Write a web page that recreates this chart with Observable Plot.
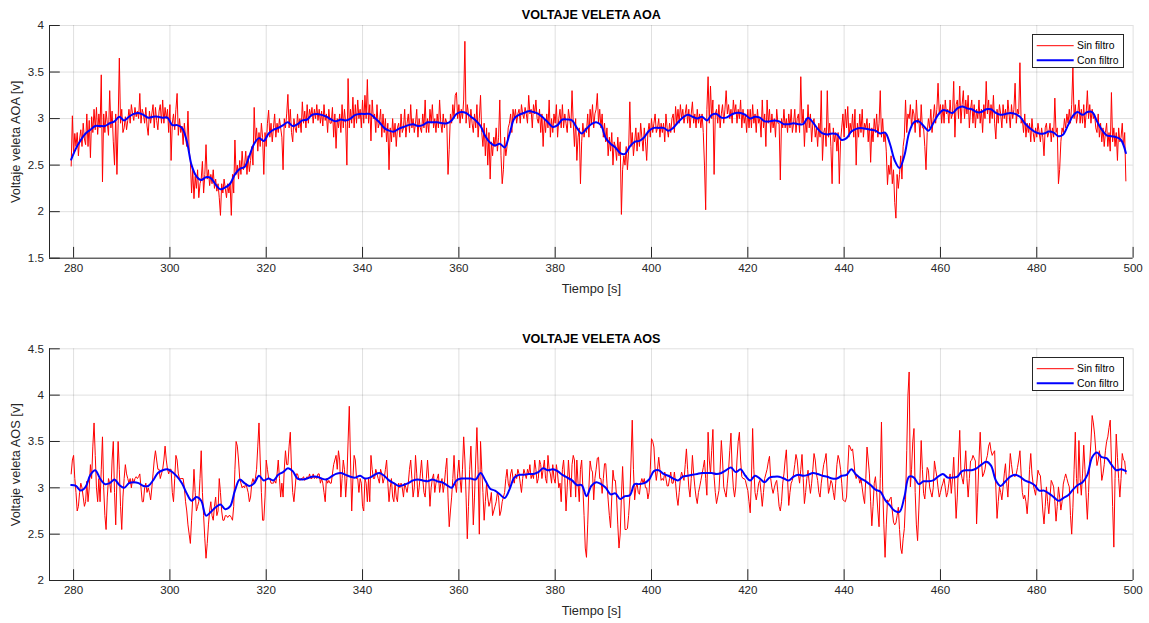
<!DOCTYPE html>
<html>
<head>
<meta charset="utf-8">
<script src="https://cdn.jsdelivr.net/npm/d3@7"></script>
<script src="https://cdn.jsdelivr.net/npm/@observablehq/plot@0.6"></script>
<style>
  body { margin: 0; background: #fff; font-family: "Liberation Sans", Arial, sans-serif; }
  #wrap { position: relative; width: 1149px; height: 623px; overflow: hidden; }
  #wrap svg { display: block; }
  .legend { position: absolute; left: 1032px; width: 92px; height: 34px; box-sizing: border-box;
            border: 1px solid #262626; background: #fff; font-size: 10.4px; color: #000; }
  .legend svg { position: absolute; left: 0; top: 0; }
</style>
</head>
<body>
<div id="wrap"></div>
<script>
// ---------- axes / ticks ----------
const xDomain = [275, 500];
const xTicks = [280, 300, 320, 340, 360, 380, 400, 420, 440, 460, 480, 500];
const aoaYDomain = [1.5, 4];
const aoaYTicks = [1.5, 2, 2.5, 3, 3.5, 4];
const aosYDomain = [2, 4.5];
const aosYTicks = [2, 2.5, 3, 3.5, 4, 4.5];
const seriesNames = ["Sin filtro", "Con filtro"];
const titles = ["VOLTAJE VELETA AOA", "VOLTAJE VELETA AOS"];
const yLabels = ["Voltaje veleta AOA [v]", "Voltaje veleta AOS [v]"];
const xLabel = "Tiempo [s]";

// ---------- AOA: raw signal (start 279.5 s, step 0.25 s) ----------
const aoaRawT0 = 279.5, rawDt = 0.25;
const aoaRaw = [
2.49,3.03,2.62,2.84, 2.7,2.85,2.6,2.78, 2.88,2.7,2.95,2.78, 2.72,3.05,2.7,2.98, 2.58,3.02,2.85,3.1,
2.88,3.12,2.83,3.05, 2.9,3.47,2.32,3.05, 2.85,3.08,2.95,2.82, 3.3,2.9,3.08,2.75, 2.5,3.05,2.4,2.95,
3.65,2.95,3.1,2.85, 2.9,3.02,2.88,2.98, 3.1,2.95,3.15,3.05, 2.98,3.12,3.02,3.08, 3.0,3.27,2.95,3.1,
3.05,2.95,3.12,2.92, 2.82,3.08,2.95,3.05, 3.15,2.9,3.12,2.98, 2.88,3.08,3.15,2.95, 3.2,2.95,3.12,3.0,
3.1,2.85,3.15,2.55, 2.95,3.05,2.88,3.1, 3.27,2.82,3.0,2.85, 2.92,2.72,2.95,2.8, 2.7,3.08,2.65,2.55,
2.2,2.45,2.14,2.38, 2.25,2.45,2.15,2.3, 2.35,2.54,2.2,2.4, 2.72,2.35,2.45,2.28, 2.4,2.3,2.45,2.25,
2.35,2.22,2.3,2.15, 1.96,2.3,2.2,2.35, 2.25,2.15,2.3,2.2, 2.3,1.96,2.4,2.2, 2.77,2.4,2.5,2.35,
2.55,2.4,2.65,2.45, 2.5,2.65,2.4,2.6, 2.43,2.55,2.7,2.5, 3.12,2.75,2.9,2.65, 2.85,2.7,2.95,2.8,
2.4,2.85,2.7,2.95, 3.09,2.8,2.95,2.75, 2.9,3.05,2.8,2.95, 2.85,3.0,2.9,2.8, 2.45,3.0,2.9,3.05,
3.26,2.9,3.1,2.85, 2.75,3.0,2.9,2.85, 3.05,2.9,3.0,2.85, 3.18,2.95,3.08,2.9, 3.15,2.95,3.1,3.02,
3.12,2.95,3.1,3.0, 3.15,2.98,3.1,2.95, 3.08,2.92,3.15,2.98, 3.05,2.85,3.1,2.95, 2.95,3.12,2.8,3.05,
2.68,3.0,2.9,3.05, 2.85,3.15,2.9,3.1, 2.95,2.5,3.43,2.9, 3.1,2.95,3.23,2.9, 3.15,2.95,3.2,3.0,
3.1,2.9,3.2,2.95, 3.25,3.0,3.42,2.95, 3.15,2.76,3.2,3.0, 3.05,2.85,3.15,2.9, 2.95,3.1,2.8,3.05,
2.85,3.0,2.75,2.95, 2.45,2.9,2.75,3.0, 2.8,2.95,2.7,2.9, 2.95,2.8,3.05,2.85, 2.9,3.1,2.8,2.95,
3.05,2.85,3.15,2.9, 3.0,2.85,2.95,3.1, 2.8,3.0,2.9,2.85, 3.05,2.9,3.2,2.85, 3.0,2.85,3.1,2.95,
3.15,2.9,3.0,2.85, 3.05,2.9,3.2,2.95, 2.85,3.05,2.9,3.0, 2.95,2.4,2.67,3.05, 2.95,3.15,3.0,3.25,
3.28,3.0,3.15,2.95, 3.1,3.0,3.2,3.83, 2.95,3.15,3.05,2.9, 3.1,2.95,2.85,3.05, 2.9,3.15,2.8,3.0,
3.25,2.85,2.7,2.95, 2.6,2.9,2.5,2.85, 2.35,2.75,2.6,2.8, 2.7,2.9,2.65,2.8, 3.2,2.6,2.3,2.45,
2.8,2.6,2.7,2.9, 2.95,3.05,2.85,3.1, 3.0,3.1,2.95,3.05, 3.1,2.95,3.15,3.05, 3.0,3.12,3.05,2.95,
3.25,3.05,3.1,2.9, 3.15,3.05,3.2,3.0, 2.95,3.1,2.85,3.05, 2.7,3.0,2.85,3.05, 2.9,3.2,2.8,3.0,
2.85,3.05,2.95,3.15, 2.8,3.0,3.1,2.9, 3.15,2.9,3.05,2.95, 2.85,3.1,3.0,2.9, 3.3,2.95,2.7,3.0,
2.55,2.8,2.9,2.3, 2.75,2.95,2.8,2.9, 2.85,3.05,2.8,3.1, 2.95,3.15,2.9,3.05, 3.1,3.27,2.95,3.1,
2.9,3.05,2.8,2.95, 2.75,2.9,2.6,2.8, 2.65,2.85,2.5,2.75, 2.7,2.55,2.8,2.6, 2.75,1.97,2.45,2.6,
2.5,2.7,2.45,2.65, 3.18,2.7,2.85,2.6, 2.75,2.9,2.65,2.85, 2.7,2.95,2.8,2.65, 2.9,2.75,2.55,2.85,
2.95,2.8,3.0,2.85, 2.95,3.05,2.85,2.9, 3.0,2.8,2.95,2.85, 2.95,2.75,3.05,2.9, 2.8,2.95,2.85,3.0,
3.05,2.85,3.13,2.95, 3.1,2.95,3.15,3.0, 3.1,2.95,3.05,3.15, 2.95,3.1,2.9,3.05, 3.18,2.95,3.05,2.9,
3.1,2.95,3.05,2.9, 3.05,2.85,2.5,2.02, 3.1,3.45,2.95,3.35, 3.0,3.2,2.4,3.05, 3.1,2.95,3.15,2.9,
3.05,3.15,2.95,3.1, 3.3,3.05,3.15,3.0, 3.1,2.95,3.2,3.05, 3.15,2.95,3.1,3.0, 3.2,2.9,3.1,2.95,
3.05,2.85,3.1,2.9, 3.1,2.9,3.15,2.95, 3.05,2.85,3.1,2.95, 3.0,2.8,3.2,2.9, 3.05,2.7,3.2,2.95,
3.1,2.85,3.05,2.9, 3.0,2.8,3.1,2.95, 2.95,2.34,3.0,2.9, 3.1,2.9,3.0,2.85, 3.05,2.9,3.1,2.85,
2.95,3.1,2.85,3.0, 3.05,2.85,3.45,2.95, 3.1,2.7,3.0,2.85, 3.15,2.9,3.05,2.75, 2.95,3.0,2.8,2.9,
2.7,2.95,2.8,3.3, 2.55,2.85,2.9,2.7, 3.3,2.8,2.95,2.7, 2.3,2.9,2.75,2.85, 2.65,2.85,2.3,2.75,
2.9,3.05,2.8,3.1, 2.9,3.13,2.8,2.95, 2.85,3.05,2.8,3.1, 2.5,2.95,2.8,3.05, 2.85,3.1,2.8,2.95,
2.9,3.0,2.75,2.95, 2.53,2.9,2.75,3.0, 2.85,3.05,2.8,2.95, 3.3,2.8,3.0,2.75, 2.85,2.65,2.29,2.5,
2.4,2.6,2.3,2.45, 2.1,1.93,2.4,2.25, 2.4,2.6,2.35,2.7, 2.8,3.2,2.85,3.05, 3.0,3.15,2.9,3.1,
3.05,2.85,3.2,2.95, 3.0,2.8,3.15,2.9, 2.9,2.7,2.45,2.85, 3.0,2.9,3.1,2.85, 3.0,3.15,2.95,3.1,
3.38,3.05,3.15,2.95, 3.15,2.95,3.2,3.05, 3.1,2.95,3.2,3.0, 3.05,3.4,2.8,3.15, 3.2,3.0,3.35,2.95,
3.15,3.3,3.0,3.2, 3.05,3.25,2.9,3.1, 3.2,2.95,3.15,2.9, 3.1,3.0,3.2,2.95, 3.1,2.85,3.15,3.0,
3.4,3.05,3.2,2.95, 3.15,3.0,3.25,2.95, 2.78,3.1,2.95,3.15, 3.05,2.9,3.15,3.0, 3.1,2.95,3.2,3.05,
2.9,3.15,3.0,3.1, 3.38,2.95,3.1,3.05, 3.6,2.95,3.0,2.85, 3.05,2.8,2.95,2.85, 2.95,2.75,3.0,2.85,
2.75,2.9,2.8,2.95, 2.85,2.75,2.9,2.8, 2.6,2.9,2.95,2.8, 2.85,2.95,2.75,2.9, 2.8,3.22,2.85,2.9,
2.3,2.45,2.75,2.9, 2.85,3.0,2.9,3.05, 2.95,3.1,2.95,3.15, 3.55,3.0,3.15,2.95, 3.05,3.2,2.95,3.1,
2.95,3.15,2.9,3.05, 3.3,3.0,3.15,2.95, 3.1,3.0,3.05,2.9, 2.85,3.05,2.8,2.95, 2.75,2.9,2.7,2.85,
2.95,2.7,2.85,2.65, 3.28,2.75,2.9,2.7, 2.85,2.55,2.9,2.75, 2.8,2.95,2.7,2.85,
2.33
];

// ---------- AOA: filtered signal (start 279.5 s, step 1 s) ----------
const aoaFiltT0 = 279.5, filtDt = 1;
const aoaFilt = [
2.56,2.68,2.77,2.84,2.88,2.92,2.92,2.92,2.95,2.97, 3.02,2.98,3.02,3.05,3.06,3.04,3.01,3.02,3.02,3.01,
3.01,2.93,2.93,2.9,2.76,2.5,2.38,2.34,2.37,2.36, 2.29,2.24,2.26,2.3,2.4,2.46,2.48,2.6,2.73,2.79,
2.76,2.84,2.88,2.9,2.93,2.96,2.92,2.94,2.98,2.99, 3.04,3.05,3.04,3.02,2.99,2.97,2.99,2.98,3.0,3.04,
3.05,3.05,3.05,3.01,2.96,2.9,2.87,2.86,2.89,2.91, 2.93,2.94,2.92,2.93,2.96,2.96,2.96,2.95,2.95,2.98,
3.05,3.07,3.06,3.02,2.98,2.92,2.81,2.74,2.71,2.73, 2.69,2.83,3.0,3.04,3.06,3.08,3.07,3.05,3.01,2.96,
2.91,2.93,2.99,2.99,2.98,2.9,2.84,2.89,2.94,2.96, 2.93,2.79,2.73,2.69,2.63,2.62,2.7,2.75,2.76,2.8,
2.87,2.9,2.9,2.9,2.87,2.9,2.96,3.01,3.04,3.02, 3.0,3.02,2.98,3.04,3.05,3.01,3.01,3.04,3.06,3.06,
3.04,3.0,3.02,3.01,2.97,2.97,2.98,2.97,2.94,2.94, 2.95,2.94,2.94,3.01,2.96,2.89,2.84,2.83,2.84,2.83,
2.77,2.79,2.86,2.89,2.9,2.89,2.88,2.87,2.84,2.85, 2.73,2.55,2.47,2.6,2.85,2.96,2.97,2.92,2.87,2.95,
3.04,3.09,3.08,3.06,3.11,3.13,3.11,3.1,3.07,3.07, 3.1,3.1,3.06,3.04,3.05,3.06,3.05,3.02,2.95,2.9,
2.86,2.84,2.84,2.86,2.85,2.81,2.83,2.93,3.03,3.07, 3.04,3.07,3.07,2.97,2.88,2.82,2.81,2.8,2.77,2.63
];

// ---------- AOS: raw signal, three consecutive pieces (step 0.25 s) ----------
const aosRawAT0 = 279.5;
const aosRawA = [
3.15,3.3,3.35,3.1, 2.95,2.75,2.8,2.95, 3.05,3.0,2.9,2.8, 2.85,3.07,2.85,3.0, 3.25,3.1,3.45,3.7,
3.35,3.0,2.85,3.1, 2.85,3.2,3.55,3.0, 2.7,2.55,2.9,3.1, 3.05,2.95,3.3,3.5, 2.95,2.6,3.1,3.5,
3.2,2.8,2.55,2.9, 3.1,3.25,3.15,3.1, 3.05,3.1,3.0,3.1, 3.05,3.1,3.12,3.1, 3.12,3.15,3.0,2.85,
2.85,3.0,3.05,2.95, 3.0,2.95,2.87,3.0, 3.15,3.3,3.4,3.3, 3.2,3.2,3.1,3.15, 3.2,3.3,3.45,3.3,
3.2,3.15,3.2,3.2, 2.95,2.85,3.1,3.35, 3.3,3.15,3.1,3.1, 3.1,3.1,3.0,2.85, 2.75,2.6,2.5,2.4,
2.65,2.9,3.2,2.95, 2.75,2.8,2.85,3.1, 3.4,2.95,2.7,2.45, 2.24,2.4,2.6,2.75, 2.85,2.7,2.65,2.8,
2.9,2.7,2.75,3.1, 2.95,2.75,2.65,2.65, 2.7,2.7,2.68,2.7, 2.7,2.68,2.65,2.8, 3.2,3.5,3.45,3.3,
3.1,3.05,3.0,3.02, 3.0,3.05,3.0,2.95, 2.85,2.9,3.05,3.1, 3.05,3.1,3.2,3.45, 3.7,3.3,2.95,2.65,
2.65,2.9,3.3,3.2, 3.1,3.1,3.05,3.05, 3.05,3.08,3.05,3.15, 3.3,3.1,2.9,3.05, 2.9,3.2,3.4,3.25,
3.25,3.45,3.6,3.2, 2.95,2.85,3.0,3.15, 3.15,3.1,3.08,3.1, 3.1,3.12,3.08,3.1, 3.12,3.1,3.15,3.1,
3.1,3.15,3.1,3.12, 3.1,3.15,3.15,3.05, 3.1,3.05,2.95,2.85, 3.1,3.05,3.08,3.05, 3.05,3.15,3.25,3.3,
3.35,3.2,3.4,3.3, 2.9,3.1,3.3,3.2, 2.9,3.1,3.5,3.88, 3.3,2.75,3.1,3.35, 3.3,3.1,3.1,2.95,
3.1,3.05,2.8,2.75, 3.1,3.05,2.85,3.1, 2.85,3.35,3.2,3.1, 3.1,3.2,3.15,3.1, 3.05,3.2,3.15,3.05,
3.1,3.2,3.3,3.05, 2.85,3.0,3.1,2.9, 2.85,3.05,2.9,2.85, 3.05,3.0,3.05,3.0, 2.9,3.05,3.0,2.95,
3.05,3.2,3.3,3.1, 2.9,3.0,3.35,3.15, 2.9,3.0,3.15,3.3, 3.1,2.95,2.9,3.1, 3.3,3.1,2.8,3.0,
3.1,3.15,2.95,3.05, 3.1,3.15,2.95,3.05, 3.1,2.95,3.05,3.2, 3.32,2.9,2.58,2.75, 2.9,3.1,3.35,3.05,
2.95,3.15,3.3,3.1, 2.95,3.2,3.55,3.3, 2.9,2.45,2.8,3.2, 3.45,3.1,2.6,2.9, 3.3,3.65,3.2,2.5,
3.5,3.2,2.95,2.65, 2.85,3.05,2.9,2.8, 2.85,2.95,2.7,2.75, 2.8,2.85,2.95,2.9, 2.7,2.75,2.85,2.9,
2.95,3.1,3.2,3.05, 3.0,3.15,3.2,3.1, 3.05,3.15,3.1,3.2, 3.15,3.05,2.95,3.1, 3.2,3.15,3.1,3.2,
3.15,3.25,3.1,3.15, 3.1,3.3,3.2,3.05, 3.1,3.3,3.25,3.1, 3.2,3.3,3.1,3.05, 3.35,3.2,3.15,3.05,
3.25,3.1,3.05,3.25, 3.15,3.0,3.05,2.85, 3.2,3.3,3.1,2.75, 3.0,3.3,3.1,2.9, 3.25,3.35,3.3,2.9,
3.3,3.05,2.85,3.2, 3.3,3.0,2.7,2.35, 2.25,2.6,3.0,3.29, 3.2,3.17,2.87,3.1, 3.2,3.32,3.33,3.1,
3.1,2.94,3.1,3.26, 3.26,3.05,2.87,2.7, 2.57,2.9,3.19,3.08, 3.08,2.9,2.6,2.35, 2.5,2.9,3.23,2.9,
2.55,2.55,2.56,2.7, 2.9,3.3,3.73,3.2, 2.87,3.0,3.05,2.95, 2.93,3.05,3.1,3.05, 3.1,3.0,3.0,2.88,
2.95,3.2,3.53,3.5, 3.44,3.2,3.08,3.2, 3.33,3.2,3.08,3.1, 3.08,3.17,3.1,3.02, 3.02,3.1,3.17,3.05,
3.05,3.17,3.05,2.9
];
const aosRawBT0 = 405.5;
const aosRawB = [
2.81,2.95,3.1,3.17, 3.12,3.08,3.25,3.42, 3.2,3.0,2.9,3.1, 3.35,3.15,3.01,2.9, 2.83,2.95,3.01,3.08,
3.15,3.22,3.3,3.1, 2.92,3.6,3.3,3.15, 3.4,3.63,3.12,2.95, 2.83,2.9,2.97,3.2, 3.51,3.3,3.01,2.95,
2.9,3.05,3.19,3.4, 3.59,3.2,3.0,2.9, 3.01,3.3,3.5,3.6, 3.3,3.12,3.1,3.1, 3.08,3.02,2.97,2.85,
2.73,3.1,3.64,3.2, 2.95,2.87,2.95,3.05, 3.08,2.95,2.8,2.95, 3.1,3.15,3.2,3.28, 3.34,3.1,3.0,2.94,
3.0,3.05,3.08,2.95, 2.8,2.75,2.85,3.05, 3.15,3.3,3.41,3.1, 2.81,2.95,3.05,3.08, 3.15,3.25,3.36,3.3,
3.15,3.05,3.2,3.36, 3.1,2.83,2.95,3.1, 3.19,3.05,2.94,3.05, 3.2,3.37,3.3,3.15, 3.08,2.95,2.9,3.05,
3.15,3.25,3.3,3.37, 3.15,2.94,3.0,3.08, 3.05,2.95,2.87,3.05, 3.25,3.35,3.3,3.2, 3.05,2.87,2.86,2.85,
2.9,3.2,3.46,3.44, 3.4,3.42,3.3,3.15, 3.1
];
const aosRawCT0 = 442.75;
const aosRawC = [
3.14,3.12,3.05,3.1, 3.0,2.9,2.83,3.1, 3.44,3.3,3.15,2.85, 2.59,2.8,3.05,3.12, 2.95,2.75,2.58,3.1,
3.71,3.0,2.6,2.25, 2.6,2.87,2.85,2.88, 2.9,2.75,2.63,2.6, 2.62,2.7,2.79,2.55, 2.35,2.29,2.45,2.56,
2.87,3.4,4.0,4.25, 3.01,3.2,3.5,3.64, 2.95,2.6,2.43,2.75, 3.1,3.51,3.2,2.94, 2.88,3.05,3.22,3.19,
3.01,2.95,2.9,3.0, 3.29,3.2,3.12,3.0, 2.9,2.95,3.01,3.05, 3.1,3.0,2.9,2.95, 3.05,3.15,2.94,3.1,
3.33,3.0,2.67,2.9, 3.3,3.62,3.17,3.1, 3.04,3.2,3.4,3.1, 2.9,3.1,3.29,3.3, 3.35,3.32,3.29,2.61,
2.95,3.3,3.6,3.3, 3.12,3.15,3.2,3.3, 3.35,3.45,3.49,3.4, 3.35,3.38,3.4,3.0, 2.67,2.85,3.01,2.95,
2.87,3.0,3.15,3.26, 3.05,2.9,3.15,3.37, 3.25,3.15,3.13,3.12, 3.15,3.22,3.3,3.4, 3.15,2.95,2.88,2.92,
2.85,2.72,2.9,3.2, 3.37,3.15,3.04,2.98, 2.92,3.05,3.19,3.15, 3.13,2.95,2.75,2.61, 2.8,3.01,2.85,2.72,
2.9,3.08,3.05,3.01, 2.85,2.64,2.8,3.01, 2.9,2.76,2.85,3.04, 3.1,3.15,3.1,3.05, 3.01,2.7,2.5,2.79,
3.2,3.6,3.1,2.94, 3.51,3.1,2.92,3.15, 3.46,3.2,2.9,2.66, 2.95,3.28,3.5,3.78, 3.7,3.58,3.4,3.24,
3.3,3.4,3.3,3.08, 3.15,3.25,3.4,3.5, 3.55,3.65,3.73,3.29, 2.8,2.36,3.1,3.58, 3.33,3.1,2.9,3.1,
3.37,3.3,3.29,3.15
];

// ---------- AOS: filtered signal (start 279.5 s, step 1 s) ----------
const aosFiltT0 = 279.5;
const aosFilt = [
3.03,3.02,2.97,3.01,3.14,3.19,3.1,3.04,3.05,3.09, 3.03,3.0,3.05,3.06,3.05,3.02,3.02,3.08,3.16,3.19,
3.2,3.17,3.12,3.05,2.94,2.86,2.9,2.86,2.7,2.74, 2.79,2.82,2.77,2.8,2.97,3.09,3.05,3.02,3.05,3.13,
3.08,3.1,3.08,3.14,3.17,3.21,3.18,3.1,3.09,3.1, 3.12,3.12,3.1,3.09,3.12,3.15,3.16,3.14,3.12,3.11,
3.13,3.1,3.11,3.14,3.16,3.13,3.08,3.05,3.02,3.03, 3.05,3.08,3.09,3.08,3.07,3.09,3.07,3.06,3.03,3.0,
3.08,3.1,3.1,3.1,3.09,3.16,3.08,2.99,2.97,2.93, 2.89,2.98,3.11,3.14,3.14,3.15,3.15,3.17,3.21,3.19,
3.2,3.18,3.14,3.11,3.08,3.03,3.03,2.91,3.02,3.06, 3.04,3.0,2.93,2.94,2.88,2.91,2.92,3.04,3.04,3.05,
3.09,3.18,3.19,3.15,3.13,3.1,3.08,3.12,3.13,3.14, 3.15,3.16,3.16,3.16,3.15,3.16,3.19,3.22,3.17,3.2,
3.13,3.08,3.13,3.1,3.06,3.11,3.12,3.12,3.1,3.08, 3.12,3.14,3.13,3.14,3.16,3.15,3.13,3.12,3.1,3.1,
3.13,3.14,3.2,3.14,3.1,3.07,3.03,2.98,2.96,2.87, 2.81,2.75,2.74,2.9,3.12,3.11,3.04,3.07,3.07,3.08,
3.12,3.15,3.11,3.11,3.12,3.18,3.19,3.19,3.21,3.25, 3.28,3.24,3.08,3.02,3.07,3.12,3.14,3.12,3.08,3.06,
3.03,2.97,2.97,2.94,2.9,2.86,2.89,2.92,2.98,3.03, 3.06,3.14,3.33,3.38,3.33,3.32,3.25,3.19,3.2,3.18
];

// ---------- build tables ----------
const toRows = (vals, t0, dt) => vals.map((v, i) => ({t: t0 + i * dt, v}));
const aoaRawRows = toRows(aoaRaw, aoaRawT0, rawDt);
const aoaFiltRows = toRows(aoaFilt, aoaFiltT0, filtDt);
const aosRawRows = [
  ...toRows(aosRawA, aosRawAT0, rawDt),
  ...toRows(aosRawB, aosRawBT0, rawDt),
  ...toRows(aosRawC, aosRawCT0, rawDt)
];
const aosFiltRows = toRows(aosFilt, aosFiltT0, filtDt);

const FONT = '"Liberation Sans", Arial, Helvetica, sans-serif';
const AXC = "#262626";

function chart(o) {
  return Plot.plot({
    width: 1149,
    height: o.height,
    marginLeft: 49,
    marginRight: 16.4,
    marginTop: o.marginTop,
    marginBottom: o.marginBottom,
    style: {fontFamily: FONT, fontSize: "11.6px", color: AXC, background: "#fff", overflow: "visible"},
    x: {domain: xDomain, label: null},
    y: {domain: o.yDomain, label: null},
    marks: [
      Plot.gridX(xTicks, {stroke: AXC, strokeOpacity: 0.14}),
      Plot.gridY(o.yTicks, {stroke: AXC, strokeOpacity: 0.14}),
      Plot.line(o.raw, {x: "t", y: "v", stroke: "#ff0000", strokeWidth: 1}),
      Plot.line(o.filt, {x: "t", y: "v", stroke: "#0000ff", strokeWidth: 2, curve: "catmull-rom"}),
      Plot.ruleX([xDomain[0]], {stroke: AXC}),
      Plot.ruleY([o.yDomain[0]], {stroke: AXC}),
      Plot.axisX(xTicks, {anchor: "bottom", tickSize: -10.8, tickPadding: 16.5, tickFormat: d => String(d), label: null, fill: AXC}),
      Plot.axisY(o.yTicks, {anchor: "left", tickSize: -10.8, tickPadding: 16.4, tickFormat: d => String(d), label: null, fill: AXC}),
      Plot.text([o.title], {frameAnchor: "top", dy: o.titleDy, fontWeight: "bold", fontSize: 12.6, fill: "#000", lineAnchor: "middle"}),
      Plot.text([xLabel], {frameAnchor: "bottom", dy: o.xlabelDy, fontSize: 12.8, fill: AXC, lineAnchor: "middle"}),
      Plot.text([o.ylabel], {frameAnchor: "left", dx: -34, rotate: -90, fontSize: 12.8, fill: AXC, lineAnchor: "middle", textAnchor: "middle"})
    ]
  });
}

const wrap = document.getElementById("wrap");
wrap.append(chart({
  raw: aoaRawRows, filt: aoaFiltRows, yDomain: aoaYDomain, yTicks: aoaYTicks,
  title: titles[0], ylabel: yLabels[0],
  height: 300, marginTop: 25, marginBottom: 42.3, titleDy: -11, xlabelDy: 30.6
}));
wrap.append(chart({
  raw: aosRawRows, filt: aosFiltRows, yDomain: aosYDomain, yTicks: aosYTicks,
  title: titles[1], ylabel: yLabels[1],
  height: 323, marginTop: 48.3, marginBottom: 43, titleDy: -10, xlabelDy: 30
}));

// legends
function legend(top) {
  const d = document.createElement("div");
  d.className = "legend";
  d.style.top = top + "px";
  d.innerHTML =
    `<svg width="90" height="32">
      <line x1="3.7" x2="40.7" y1="10.7" y2="10.7" stroke="#ff0000" stroke-width="1"/>
      <line x1="3.7" x2="40.7" y1="25.3" y2="25.3" stroke="#0000ff" stroke-width="2"/>
      <text x="44" y="10.7" dy="0.35em" font-family='${FONT}' font-size="10.4" fill="#000">${seriesNames[0]}</text>
      <text x="44" y="25.3" dy="0.35em" font-family='${FONT}' font-size="10.4" fill="#000">${seriesNames[1]}</text>
    </svg>`;
  wrap.append(d);
}
legend(34);
legend(357.3);
</script>
</body>
</html>
